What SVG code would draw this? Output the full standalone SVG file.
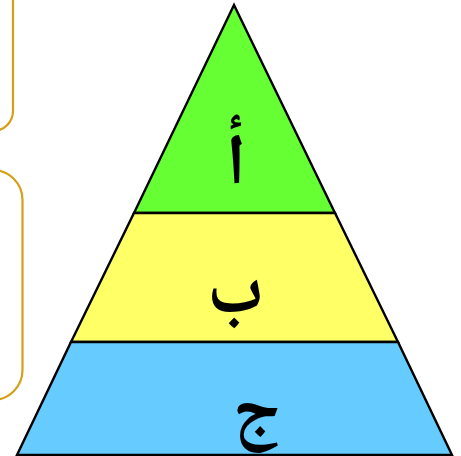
<svg xmlns="http://www.w3.org/2000/svg" width="461" height="456" viewBox="0 0 461 456">
<style>
.box{fill:none;stroke:#D4A017;stroke-width:2.2}
.lvl{stroke:#000;stroke-width:2.4;stroke-linejoin:miter}
.lbl{font-family:"Noto Naskh Arabic","Amiri","Times New Roman",serif;font-weight:bold;fill:#000;text-anchor:middle}
</style>
<rect width="461" height="456" fill="#fff"/>
<g id="box1"><rect class="box" x="-60" y="-40" width="73" height="171" rx="20"/></g>
<g id="box2"><rect class="box" x="-60" y="170" width="82.5" height="230" rx="30"/></g>
<g id="level-a">
<polygon class="lvl" fill="#66FF33" points="234,5 134,213 335,213"/>
<text class="lbl" x="236" y="184" font-size="72">أ</text>
</g>
<g id="level-b">
<polygon class="lvl" fill="#FFFF66" points="134,213 335,213 398,342 71,342"/>
<text class="lbl" x="236" y="312" font-size="72">ب</text>
</g>
<g id="level-c">
<polygon class="lvl" fill="#66CCFF" points="71,342 398,342 452,455 17,455"/>
<text class="lbl" x="256" y="432" font-size="72">ج</text>
</g>
</svg>
